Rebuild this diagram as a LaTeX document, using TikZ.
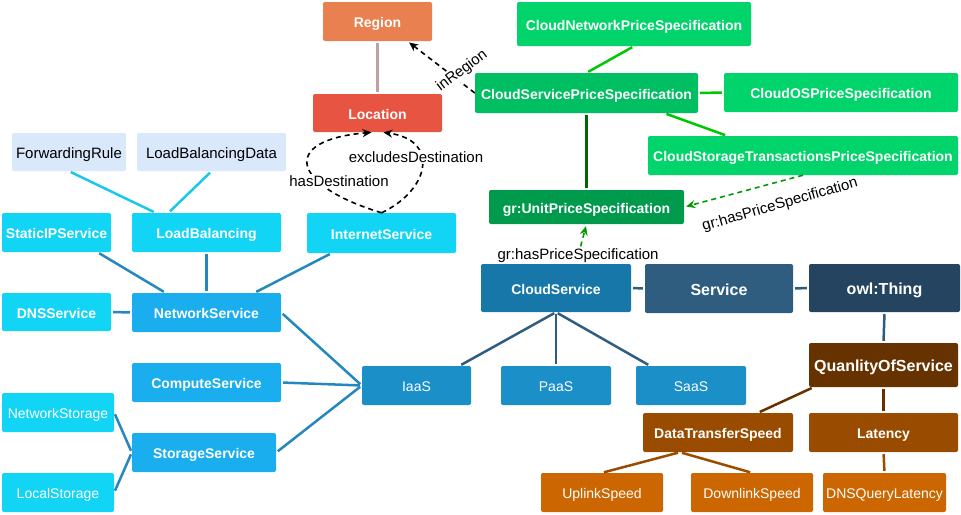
\documentclass[tikz,border=0pt]{standalone}
\usepackage{fontspec}
\setmainfont{Liberation Sans}
\usepackage{tikz}
\usetikzlibrary{positioning}
\usetikzlibrary{arrows.meta}
\definecolor{regionfill}{HTML}{E8804F}
\definecolor{locfill}{HTML}{E85442}
\definecolor{lightgreen}{HTML}{00D46A}
\definecolor{midgreen}{HTML}{00BE62}
\definecolor{darkgreen}{HTML}{009A4C}
\definecolor{palefill}{HTML}{DAE8FC}
\definecolor{cyanfill}{HTML}{12D4F4}
\definecolor{bluefill}{HTML}{1BAEEE}
\definecolor{iaasfill}{HTML}{1A8FC8}
\definecolor{csfill}{HTML}{1677A8}
\definecolor{svcfill}{HTML}{2E5D80}
\definecolor{owlfill}{HTML}{24445F}
\definecolor{qosfill}{HTML}{663300}
\definecolor{brownfill}{HTML}{994C00}
\definecolor{orangefill}{HTML}{CC6600}
\definecolor{cyanline}{HTML}{1AC8EA}
\definecolor{blueline}{HTML}{2487C0}
\definecolor{greenline}{HTML}{00C800}
\definecolor{dkgreenline}{HTML}{006600}
\definecolor{regionline}{HTML}{C0A0A0}
\definecolor{arrowgreen}{HTML}{009900}

\begin{document}
\begin{tikzpicture}[x=1pt,y=-1pt,
	box/.style={rounded corners=2pt, inner sep=0pt, minimum height=39pt, text height=12pt, text depth=0pt, text=white, font=\fontsize{14}{16}\selectfont\bfseries},
	plain/.style={box, font=\fontsize{14}{16}\selectfont},
	big/.style={box, text height=13.5pt, font=\fontsize{16}{18}\selectfont\bfseries},
	pale/.style={box, fill=palefill, text=black, text height=12.7pt, font=\fontsize{15}{17}\selectfont},
	lbl/.style={inner sep=1pt, font=\fontsize{15}{17}\selectfont},
	link/.style={line width=2.5pt, shorten <=2pt, shorten >=2pt},
	rel/.style={line width=1.6pt, dash pattern=on 5pt off 4pt, shorten >=2pt, -{Stealth[length=9pt,width=8pt]}}]
			\useasboundingbox (0,0) rectangle (961,514);
			% location and pricing
			\node at (377.5,21.5) (Reg) [box, fill=regionfill, minimum width=109pt] {Region} ;
			\node at (377.5,113) (Loc) [box, fill=locfill, minimum width=129pt, minimum height=38pt] {Location} ;
			\node at (634,24) (CNPS) [box, fill=lightgreen, minimum width=234pt, minimum height=44pt] {CloudNetworkPriceSpecification} ;
			\node at (586.5,93) (CSPS) [box, fill=midgreen, minimum width=223pt, minimum height=40pt] {CloudServicePriceSpecification} ;
			\node at (841,92.5) (COSPS) [box, fill=lightgreen, minimum width=234pt] {CloudOSPriceSpecification} ;
			\node at (803,155.5) (CSTPS) [box, fill=lightgreen, minimum width=310pt] {CloudStorageTransactionsPriceSpecification} ;
			\node at (586.5,207) (UPS) [box, fill=darkgreen, minimum width=195pt, minimum height=34pt] {gr:UnitPriceSpecification} ;
			% network side
			\node at (69,152) (FR) [pale, minimum width=114pt, minimum height=38pt] {ForwardingRule} ;
			\node at (211.5,152) (LBD) [pale, minimum width=149pt, minimum height=38pt] {LoadBalancingData} ;
			\node at (56.5,232.5) (SIP) [box, fill=cyanfill, minimum width=109pt] {StaticIPService} ;
			\node at (206.5,232.5) (LB) [box, fill=cyanfill, minimum width=149pt] {LoadBalancing} ;
			\node at (381.5,233) (IS) [box, fill=cyanfill, minimum width=149pt, minimum height=40pt] {InternetService} ;
			\node at (56.5,312) (DNS) [box, fill=cyanfill, minimum width=109pt, minimum height=38pt] {DNSService} ;
			\node at (206.5,312.5) (NS) [box, fill=bluefill, minimum width=149pt] {NetworkService} ;
			\node at (206.5,382.5) (CmpS) [box, fill=bluefill, minimum width=149pt] {ComputeService} ;
			\node at (204,452.5) (StS) [box, fill=bluefill, minimum width=144pt] {StorageService} ;
			\node at (58,412.5) (NSt) [plain, fill=cyanfill, minimum width=112pt] {NetworkStorage} ;
			\node at (58,492.5) (LSt) [plain, fill=cyanfill, minimum width=112pt] {LocalStorage} ;
			% service tree
			\node at (416.5,385.5) (IaaS) [plain, fill=iaasfill, minimum width=109pt] {IaaS} ;
			\node at (556,385.5) (PaaS) [plain, fill=iaasfill, minimum width=110pt] {PaaS} ;
			\node at (691,385.5) (SaaS) [plain, fill=iaasfill, minimum width=110pt] {SaaS} ;
			\node at (556,288) (CldS) [box, fill=csfill, minimum width=150pt, minimum height=48pt] {CloudService} ;
			\node at (719,288.5) (Svc) [big, fill=svcfill, minimum width=148pt, minimum height=49pt] {Service} ;
			\node at (884.5,288) (Thg) [big, fill=owlfill, minimum width=151pt, minimum height=48pt] {owl:Thing} ;
			\node at (883.5,365) (QoS) [big, fill=qosfill, minimum width=149pt, minimum height=44pt] {QuanlityOfService} ;
			\node at (718,432.5) (DTS) [box, fill=brownfill, minimum width=150pt] {DataTransferSpeed} ;
			\node at (883.5,432.5) (Lat) [box, fill=brownfill, minimum width=149pt] {Latency} ;
			\node at (602,492.5) (ULS) [plain, fill=orangefill, minimum width=122pt] {UplinkSpeed} ;
			\node at (752,492.5) (DLS) [plain, fill=orangefill, minimum width=122pt] {DownlinkSpeed} ;
			\node at (884.5,492.5) (DQL) [plain, fill=orangefill, minimum width=123pt] {DNSQueryLatency} ;
			% links
			\draw [link, regionline] (Reg.south) -- (Loc.north);
			\draw [link, greenline] (CNPS.south) -- (CSPS.north); \draw [link, greenline] (CSPS.east) -- (COSPS.west);
			\draw [link, greenline] ([xshift=78pt]CSPS.south) -- ([xshift=-76pt]CSTPS.north);
			\draw [link, dkgreenline] (CSPS.south) -- (UPS.north);
			\draw [link, cyanline] (FR.south) -- ([xshift=-51pt]LB.north); \draw [link, cyanline] (LBD.south) -- ([xshift=-38pt]LB.north);
			\draw [link, blueline] ([xshift=41pt]SIP.south) -- ([xshift=-41pt]NS.north); \draw [link, blueline] (LB.south) -- (NS.north);
			\draw [link, blueline] ([xshift=-50pt]IS.south) -- ([xshift=48pt]NS.north); \draw [link, blueline] (DNS.east) -- (NS.west);
			\draw [link, blueline] (NS.east) -- (IaaS.west); \draw [link, blueline] (CmpS.east) -- (IaaS.west); \draw [link, blueline] (StS.east) -- (IaaS.west);
			\draw [link, blueline] (NSt.east) -- (StS.west); \draw [link, blueline] (LSt.east) -- (StS.west);
			\draw [link, svcfill] (CldS.south) -- ([xshift=43pt]IaaS.north); \draw [link, svcfill] (CldS.south) -- (PaaS.north); \draw [link, svcfill] (CldS.south) -- ([xshift=-41pt]SaaS.north);
			\draw [link, svcfill] (CldS.east) -- (Svc.west); \draw [link, svcfill] (Svc.east) -- (Thg.west); \draw [link, svcfill] (Thg.south) -- (QoS.north);
			\draw [link, qosfill] ([xshift=-70pt]QoS.south) -- ([xshift=40pt]DTS.north); \draw [link, qosfill] (QoS.south) -- (Lat.north);
			\draw [link, brownfill] ([xshift=-38pt]DTS.south) -- (ULS.north); \draw [link, brownfill] ([xshift=-38pt]DTS.south) -- (DLS.north);
			\draw [link, brownfill] (Lat.south) -- (DQL.north);
			% properties
			\draw [rel] (CSPS.west) -- ([xshift=30pt]Reg.south);
			\draw [rel] (IS.north) .. controls (290,185) and (280,140) .. ([xshift=-4pt]Loc.south);
			\draw [rel] (IS.north) .. controls (430,190) and (440,140) .. ([xshift=4pt]Loc.south);
			\draw [rel, arrowgreen] (CSTPS.south) -- (UPS.east);
			\draw [rel, arrowgreen] ([xshift=20pt]CldS.north) -- (UPS.south) node [lbl, pos=0.2, fill=white, text=black] {gr:hasPriceSpecification};
			\node at (462,71) (inReg) [lbl, fill=white, rotate=37] {inRegion} ;
			\node at (416,157) (exD) [lbl, fill=white] {excludesDestination} ;
			\node at (339,181) (hasD) [lbl, fill=white] {hasDestination} ;
			\node at (780,205) (hasPS) [lbl, rotate=16] {gr:hasPriceSpecification} ;
\end{tikzpicture}
\end{document}
